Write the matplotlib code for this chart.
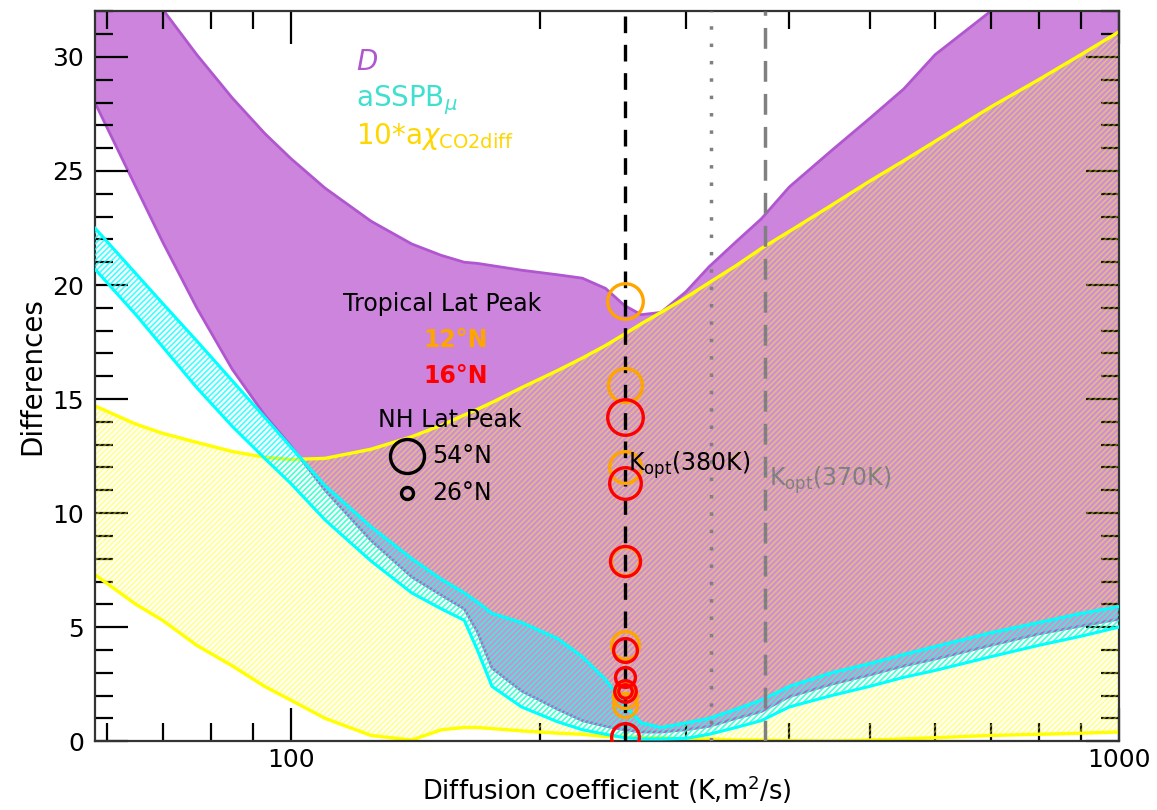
import numpy as np
import matplotlib
matplotlib.use("Agg")
import matplotlib.pyplot as plt
from matplotlib import font_manager
from matplotlib.ticker import FixedLocator, NullFormatter, FixedFormatter, MultipleLocator

# -----------------------------
# DATA
# -----------------------------
K = [58, 65, 70, 77, 85, 93, 100, 110, 125, 140, 152, 162, 168, 175, 190, 210, 225,
     240, 253, 265, 280, 300, 320, 345, 370, 400, 450, 500, 550, 600, 700, 800, 900, 1000]

D_upper = [36.0, 34.0, 32.1, 30.1, 28.2, 26.65, 25.55, 24.25, 22.8, 21.8, 21.3, 21.0, 20.95,
           20.85, 20.65, 20.45, 20.3, 19.85, 19.1, 18.7, 18.8, 19.7, 20.8, 21.9, 22.9, 24.3,
           25.9, 27.3, 28.6, 30.1, 32.0, 33.5, 34.5, 35.5]
D_lower = [28.0, 24.3, 21.9, 19.0, 16.3, 14.3, 12.95, 11.0, 8.8, 7.2, 6.4, 5.8, 4.8, 3.2,
           2.2, 1.4, 0.9, 0.65, 0.5, 0.4, 0.4, 0.5, 0.65, 1.0, 1.3, 1.95, 2.5, 2.9, 3.3,
           3.6, 4.2, 4.7, 5.05, 5.35]

sspb_upper = [22.5, 20.5, 19.2, 17.55, 15.8, 14.2, 12.9, 11.2, 9.4, 8.0, 7.1, 6.5, 6.1,
              5.6, 5.2, 4.5, 3.7, 2.7, 1.6, 0.8, 0.6, 0.8, 1.0, 1.4, 1.8, 2.4, 3.0, 3.4,
              3.8, 4.15, 4.75, 5.2, 5.6, 5.9]
sspb_lower = [20.7, 18.7, 17.3, 15.5, 13.8, 12.4, 11.3, 9.7, 7.9, 6.5, 5.8, 5.3, 4.0, 2.4,
              1.5, 0.85, 0.5, 0.3, 0.15, 0.1, 0.1, 0.12, 0.3, 0.6, 0.9, 1.5, 2.0, 2.4, 2.8,
              3.1, 3.7, 4.2, 4.6, 5.0]

chi_upper = [14.7, 13.9, 13.5, 13.1, 12.7, 12.45, 12.35, 12.4, 12.8, 13.35, 13.85, 14.3,
             14.55, 14.85, 15.5, 16.25, 16.8, 17.35, 17.85, 18.3, 18.8, 19.45, 20.1, 20.85,
             21.6, 22.35, 23.5, 24.55, 25.45, 26.3, 27.8, 29.0, 30.1, 31.1]
chi_lower = [7.3, 6.0, 5.3, 4.2, 3.3, 2.4, 1.8, 1.0, 0.25, 0.05, 0.5, 0.6, 0.6, 0.55, 0.45,
             0.35, 0.3, 0.2, 0.2, 0.15, 0.15, 0.1, 0.1, 0.05, 0.05, 0.02, 0.0, 0.05, 0.1,
             0.15, 0.25, 0.3, 0.35, 0.4]

kopt_380 = 253
kopt_370 = 374
k_dotted = 322

# tropical peak differences at Kopt, with NH latitude peak (sets circle size)
trop12_diff = [19.3, 15.6, 12.0, 7.9, 4.2, 2.0, 1.6, 2.3]
trop12_nhlat = [56, 54, 51, 47, 46, 41, 41, 31]
trop16_diff = [14.2, 11.3, 7.9, 4.0, 2.8, 2.2, 2.2, 0.2]
trop16_nhlat = [56, 51, 49, 41, 36, 38, 28, 46]

legend_lats = [54, 26]
legend_y = [12.5, 10.9]
legend_k = 138


def lat_to_ms(lat):
    r_px = 6 + (lat - 26) * 11.0 / 28.0
    return 2 * r_px * 0.72


def has_regular_face(family):
    for f in font_manager.fontManager.ttflist:
        if f.name != family:
            continue
        w = f.weight
        if isinstance(w, str):
            w = font_manager.weight_dict.get(w, 400)
        if w <= 500:
            return True
    return False


# narrow font for the axis labels if a non-bold one is around
label_family = 'DejaVu Sans'
xlab_size, ylab_size = 18.5, 20
for cand in ['DejaVu Sans Condensed', 'Liberation Sans Narrow', 'Open Sans Condensed']:
    if has_regular_face(cand):
        label_family = cand
        xlab_size, ylab_size = 22, 24
        break

# -----------------------------
# PLOT
# -----------------------------
plt.rcParams['hatch.linewidth'] = 1.2

fig = plt.figure(figsize=(11.57, 8.10), dpi=100)
ax = fig.add_axes([0.082, 0.085, 0.885, 0.901])

purple_fill = '#cc84dd'
purple_edge = '#b057d0'

ax.fill_between(K, D_lower, D_upper, facecolor=purple_fill, edgecolor='none', zorder=1)
ax.plot(K, D_upper, color=purple_edge, lw=2, zorder=1.5)
ax.plot(K, D_lower, color=purple_edge, lw=2, zorder=1.5)

ax.fill_between(K, chi_lower, chi_upper, facecolor=(1, 1, 0.7, 0.08),
                edgecolor=(1, 1, 0, 0.42), hatch='//////', lw=0, zorder=2)
ax.plot(K, chi_upper, color='yellow', lw=2.4, zorder=2.5)
ax.plot(K, chi_lower, color='yellow', lw=2.4, zorder=2.5)

ax.fill_between(K, sspb_lower, sspb_upper, facecolor='none',
                edgecolor=(0, 1, 1, 0.75), hatch='//////', lw=0, zorder=3)
ax.plot(K, sspb_upper, color='cyan', lw=2.2, zorder=3.5)
ax.plot(K, sspb_lower, color='cyan', lw=2.2, zorder=3.5)

# Kopt lines
ax.axvline(kopt_380, color='black', lw=2.4, ls=(0, (5, 3.5)), zorder=4)
ax.axvline(k_dotted, color='gray', lw=2.5, ls=(0, (1, 4)), zorder=4)
ax.axvline(kopt_370, color='gray', lw=2.5, ls=(0, (6, 3.5)), zorder=4)

# tropical peak circles
for y, lat in zip(trop12_diff, trop12_nhlat):
    ax.plot(kopt_380, y, 'o', mfc='none', mec='orange', mew=2.4,
            ms=lat_to_ms(lat), zorder=5)
for y, lat in zip(trop16_diff, trop16_nhlat):
    ax.plot(kopt_380, y, 'o', mfc='none', mec='red', mew=2.4,
            ms=lat_to_ms(lat), zorder=5)

# size legend
for y, lat in zip(legend_y, legend_lats):
    ax.plot(legend_k, y, 'o', mfc='none', mec='black', mew=2.4,
            ms=lat_to_ms(lat), zorder=5)
    ax.text(legend_k * 1.075, y, f'{lat}°N', fontsize=17, va='center', ha='left', zorder=6)

ax.text(0.339, 0.599, 'Tropical Lat Peak', transform=ax.transAxes, fontsize=17,
        ha='center', va='center')
ax.text(0.352, 0.549, '12°N', transform=ax.transAxes, fontsize=17, fontweight='bold',
        color='orange', ha='center', va='center')
ax.text(0.352, 0.501, '16°N', transform=ax.transAxes, fontsize=17, fontweight='bold',
        color='red', ha='center', va='center')
ax.text(0.347, 0.440, 'NH Lat Peak', transform=ax.transAxes, fontsize=17,
        ha='center', va='center')

ax.text(kopt_380 * 1.01, 12.1, r'K$_{\mathrm{opt}}$(380K)', fontsize=17,
        ha='left', va='center', zorder=6)
ax.text(kopt_370 * 1.01, 11.45, r'K$_{\mathrm{opt}}$(370K)', fontsize=17, color='gray',
        ha='left', va='center', zorder=6)

# band labels
ax.text(0.255, 0.930, 'D', transform=ax.transAxes, fontsize=20, fontstyle='italic',
        color=purple_edge, ha='left', va='center')
ax.text(0.255, 0.878, r'aSSPB$_{\mu}$', transform=ax.transAxes, fontsize=20,
        color='turquoise', ha='left', va='center')
ax.text(0.255, 0.828, r'10*a$\chi_{\mathrm{CO2diff}}$', transform=ax.transAxes,
        fontsize=20, color='gold', ha='left', va='center')

# axes
ax.set_xscale('log')
ax.set_xlim(58, 1000)
ax.set_ylim(0, 32)
ax.xaxis.set_major_locator(FixedLocator([100, 1000]))
ax.xaxis.set_major_formatter(FixedFormatter(['100', '1000']))
ax.xaxis.set_minor_locator(FixedLocator([60, 70, 80, 90, 200, 300, 400, 500, 600, 700, 800, 900]))
ax.xaxis.set_minor_formatter(NullFormatter())
ax.yaxis.set_major_locator(MultipleLocator(5))
ax.yaxis.set_minor_locator(MultipleLocator(1))

ax.tick_params(which='both', direction='in', top=True, right=True, width=1.6,
               labelsize=18, colors='black')
ax.tick_params(axis='x', pad=5)
ax.tick_params(axis='y', pad=8)
ax.tick_params(which='major', length=24)
ax.tick_params(which='minor', length=13)
for s in ax.spines.values():
    s.set_linewidth(1.6)
    s.set_color('#333333')

ax.set_ylabel('Differences', fontsize=ylab_size, family=label_family,
              fontweight='normal', labelpad=4)
ax.set_xlabel('Diffusion coefficient (K,m$^2$/s)', fontsize=xlab_size, family=label_family,
              fontweight='normal', labelpad=1)

fig.savefig('out.png', dpi=100)
